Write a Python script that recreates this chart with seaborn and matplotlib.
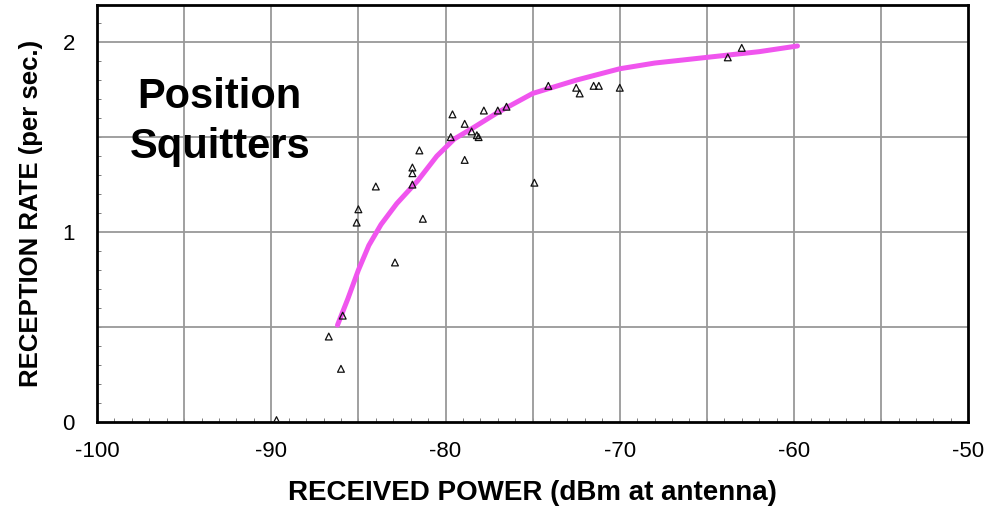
import numpy as np
import pandas as pd
import matplotlib
matplotlib.use("Agg")
import matplotlib.pyplot as plt
import seaborn as sns
from matplotlib.ticker import MultipleLocator

#------------------------------------------------------------------------------
# measured points (received power dBm, reception rate per sec)
power_pts = [-89.7, -86.7, -86.0, -85.9, -85.1, -85.0, -82.9, -84.0,
             -81.9, -81.9, -81.9, -81.5, -81.3, -79.7, -79.6, -78.9,
             -78.9, -78.5, -78.2, -78.1, -77.8, -77.0, -76.5, -74.9,
             -74.1, -72.5, -72.3, -71.5, -71.2, -70.0, -63.8, -63.0]
rate_pts = [0.01, 0.45, 0.28, 0.56, 1.05, 1.12, 0.84, 1.24,
            1.25, 1.31, 1.34, 1.43, 1.07, 1.50, 1.62, 1.57,
            1.38, 1.53, 1.51, 1.50, 1.64, 1.64, 1.66, 1.26,
            1.77, 1.76, 1.73, 1.77, 1.77, 1.76, 1.92, 1.97]

# fitted curve
power_fit = [-86.2, -85.6, -85.0, -84.4, -83.7, -82.8, -81.6, -80.5,
             -79.5, -78.4, -77.0, -75.0, -72.5, -70.0, -68.0, -65.0,
             -62.0, -59.8]
rate_fit = [0.51, 0.65, 0.80, 0.93, 1.04, 1.15, 1.27, 1.40,
            1.49, 1.55, 1.63, 1.73, 1.80, 1.86, 1.89, 1.92,
            1.95, 1.98]

df_pts = pd.DataFrame({"power": power_pts, "rate": rate_pts})
df_fit = pd.DataFrame({"power": power_fit, "rate": rate_fit})

#------------------------------------------------------------------------------
sns.set_style("white")
plt.rcParams['font.family'] = ['Liberation Sans', 'DejaVu Sans']
plt.rcParams['text.color'] = 'black'
plt.rcParams['axes.labelcolor'] = 'black'

fig = plt.figure(figsize=(9.85, 5.14), dpi=100)
ax = fig.add_axes([0.0985, 0.179, 0.8845, 0.811])

sns.lineplot(data=df_fit, x="power", y="rate", ax=ax, color="#f055ee",
             linewidth=3.6, sort=False, zorder=3)
sns.scatterplot(data=df_pts, x="power", y="rate", ax=ax, marker="^",
                s=24, facecolor="none", edgecolor="#111111", linewidth=0.9,
                zorder=4)

ax.set_xlim(-100, -50)
ax.set_ylim(0, 2.195)
ax.xaxis.set_minor_locator(MultipleLocator(1))
ax.yaxis.set_minor_locator(MultipleLocator(0.1))

# grid every 5 dB and 0.5
for gx in np.arange(-95, -50, 5):
    ax.axvline(gx, color="#999999", lw=1.3, zorder=1)
for gy in [0.5, 1.0, 1.5, 2.0]:
    ax.axhline(gy, color="#999999", lw=1.3, zorder=1)

ax.set_xticks([-100, -90, -80, -70, -60, -50])
ax.set_xticklabels(["-100", "-90", "-80", "-70", "-60", "-50"])
ax.set_yticks([0, 1, 2])
ax.tick_params(axis="both", which="major", direction="in", length=4,
               labelsize=16, colors="black")
ax.tick_params(axis="x", which="major", pad=14)
ax.tick_params(axis="y", which="major", pad=16)
ax.tick_params(axis="both", which="minor", direction="in", length=3,
               color="#666666")
ax.tick_params(axis="x", which="minor", bottom=True)
ax.tick_params(axis="y", which="minor", left=True)

for sp in ax.spines.values():
    sp.set_visible(True)
    sp.set_color("black")
    sp.set_linewidth(2)

ax.set_xlabel("RECEIVED POWER (dBm at antenna)", fontsize=20,
              fontweight="bold", labelpad=13, color="black")
ax.set_ylabel("RECEPTION RATE (per sec.)", fontsize=18.5,
              fontweight="bold", labelpad=14, color="black")

ax.text(-92.95, 1.58, "Position\nSquitters", fontsize=30, fontweight="bold",
        ha="center", va="center", multialignment="center", linespacing=1.3,
        color="black")

plt.savefig("out.png", dpi=100)
